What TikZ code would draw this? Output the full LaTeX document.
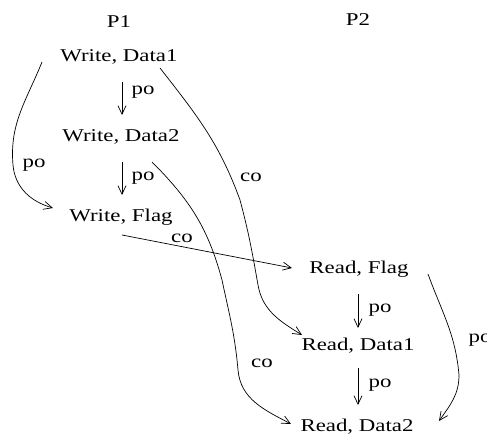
\documentclass[tikz,border=0pt]{standalone}
\usepackage{fontspec}
\setmainfont{Liberation Serif}
\usetikzlibrary{arrows.meta,calc}
\newcommand{\widetext}[1]{\scalebox{1.27}[1]{#1}}
\begin{document}
\begin{tikzpicture}[x=1pt,y=-1pt,
  ev/.style={inner sep=0pt,font=\fontsize{18}{20}\selectfont},
  lbl/.style={inner sep=0pt,font=\fontsize{18}{20}\selectfont},
  rel/.style={line width=0.7pt,-{Straight Barb[length=8.5pt,width=8pt]}}]
  \useasboundingbox (0,0) rectangle (487,437);
  % column headings
  \node[ev] (p1) at (119,22) {\widetext{P1}};
  \node[ev] (p2) at (358,20) {\widetext{P2}};
  % events of P1
  \node[ev] (wd1) at (119,57) {\widetext{Write, Data1}};
  \node[ev] (wd2) at (121,137) {\widetext{Write, Data2}};
  \node[ev] (wf)  at (121,217) {\widetext{Write, Flag}};
  % events of P2
  \node[ev] (rf)  at (359,269) {\widetext{Read, Flag}};
  \node[ev] (rd1) at (358,346) {\widetext{Read, Data1}};
  \node[ev] (rd2) at (357,427) {\widetext{Read, Data2}};
  % program order inside P1
  \draw[rel] ($(wd1)+(3,25)$) -- ($(wd2)+(1,-22)$);
  \node[lbl] at (143,92) {\widetext{po}};
  \draw[rel] ($(wd2)+(1,25)$) -- ($(wf)+(1,-22)$);
  \node[lbl] at (143,178) {\widetext{po}};
  \draw[rel] ($(wd1)+(-77,5)$)
    to[out=-112,in=95] (13,165) to[out=-85,in=164] ($(wf)+(-68,-9)$);
  \node[lbl] at (34,165) {\widetext{po}};
  % program order inside P2
  \draw[rel] ($(rf)+(-1,25)$) -- ($(rd1)+(0,-18)$);
  \node[lbl] at (380,310) {\widetext{po}};
  \draw[rel] ($(rd1)+(0,22)$) -- ($(rd2)+(1,-22)$);
  \node[lbl] at (380,385) {\widetext{po}};
  \draw[rel] ($(rf)+(69,5)$)
    to[out=-70,in=95] (459,375) to[out=-90,in=55] ($(rd2)+(82,-6)$);
  \node[lbl] at (480,340) {\widetext{po}};
  % conflict order between the processors
  \draw[rel] ($(wf)+(1,18)$) -- ($(rf)+(-67,-1)$);
  \node[lbl] at (182,238) {\widetext{co}};
  \draw[rel] ($(wd1)+(41,11)$)
    to[out=-52,in=110] (240,200) to[out=-75,in=100] (258,285) to[out=-80,in=148] ($(rd1)+(-56,-11)$);
  \node[lbl] at (251,177) {\widetext{co}};
  \draw[rel] ($(wd2)+(31,25)$)
    to[out=-45,in=105] (222,280) to[out=-78,in=95] (238,370) to[out=-85,in=152] ($(rd2)+(-66,-3)$);
  \node[lbl] at (262,363) {\widetext{co}};
\end{tikzpicture}
\end{document}
